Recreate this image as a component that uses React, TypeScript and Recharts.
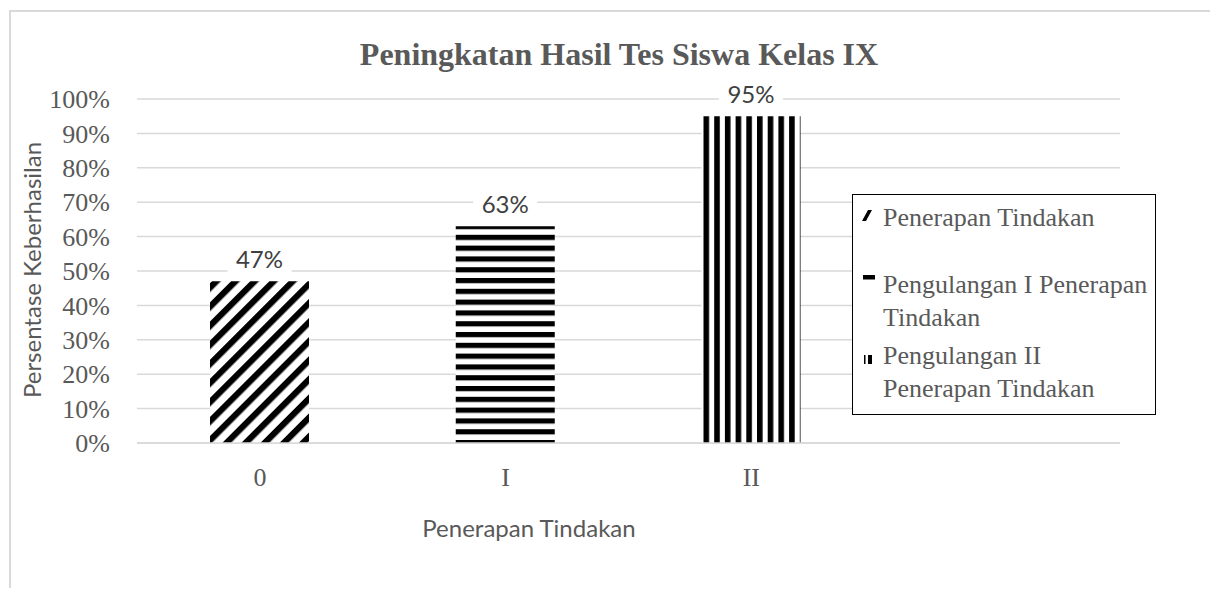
import React from 'react';
import { BarChart, Bar, XAxis, YAxis, CartesianGrid, Legend, LabelList, Cell } from 'recharts';

const categories = ['0', 'I', 'II', ''];
const values: (number | null)[] = [47, 63, 95, null];
const seriesNames = ['Penerapan Tindakan', 'Pengulangan I Penerapan Tindakan', 'Pengulangan II Penerapan Tindakan'];
const yTicks = [0, 10, 20, 30, 40, 50, 60, 70, 80, 90, 100];
const chartTitle = 'Peningkatan Hasil Tes Siswa Kelas IX';
const xTitle = 'Penerapan Tindakan';
const yTitle = 'Persentase Keberhasilan';

const patternIds = ['patDiag', 'patHoriz', 'patVert'];
const data = categories.map((c, i) => ({ category: c, value: values[i] }));

const SERIF = '"Liberation Serif", "Times New Roman", serif';
const SANS = 'Lato, "Open Sans", sans-serif';
const GRAY = '#595959';

const renderLabel = (props: any) => {
  const { x, y, width, value } = props;
  if (value === null || value === undefined) return null;
  const cx = Number(x) + Number(width) / 2;
  const top = Number(y);
  return (
    <g>
      <rect x={cx - 32} y={top - 40} width={64} height={34} fill="#fff" />
      <text x={cx} y={top - 23} textAnchor="middle" dominantBaseline="central" fontFamily={SANS} fontSize={24} fill="#404040">
        {value}%
      </text>
    </g>
  );
};

const LegendIcon = ({ i }: { i: number }) => {
  if (i === 0) {
    return (
      <svg width={16} height={18} style={{ position: 'absolute', left: 8, top: 13 }}>
        <polygon points="1,13 5,13 11,2 7,2" fill="#000" />
      </svg>
    );
  }
  if (i === 1) {
    return (
      <svg width={14} height={8} style={{ position: 'absolute', left: 10, top: 79 }}>
        <rect x={0} y={1} width={12} height={4.5} fill="#000" />
      </svg>
    );
  }
  return (
    <svg width={14} height={12} style={{ position: 'absolute', left: 10, top: 160 }}>
      <rect x={1} y={0} width={1.5} height={9} fill="#000" />
      <rect x={5} y={0} width={4} height={9} fill="#000" />
    </svg>
  );
};

const entryTops = [6, 73, 144];

const renderLegend = () => (
  <div
    style={{
      position: 'relative',
      width: 304,
      height: 221,
      border: '1px solid #000',
      boxSizing: 'border-box',
      background: '#fff',
      fontFamily: SERIF,
      fontSize: 26,
      lineHeight: '33px',
      color: GRAY,
    }}
  >
    {seriesNames.map((name, i) => (
      <div key={name}>
        <LegendIcon i={i} />
        <div style={{ position: 'absolute', left: 30, top: entryTops[i], width: 272 }}>{name}</div>
      </div>
    ))}
  </div>
);

export default function App() {
  return (
    <div style={{ position: 'relative', width: 1210, height: 580 }}>
      <div
        style={{
          position: 'absolute',
          left: 1,
          top: 2,
          width: 1209,
          height: 578,
          borderLeft: '2px solid #d9d9d9',
          borderTop: '2px solid #d9d9d9',
          boxSizing: 'border-box',
        }}
      />
      <div
        style={{
          position: 'absolute',
          left: 0,
          width: 1222,
          top: 28,
          textAlign: 'center',
          fontFamily: SERIF,
          fontWeight: 'bold',
          fontSize: 32,
          color: GRAY,
          lineHeight: '36px',
          zIndex: 2,
        }}
      >
        {chartTitle}
      </div>
      <div style={{ position: 'absolute', left: 0, top: 0 }}>
        <BarChart width={1210} height={580} data={data} margin={{ top: 91, right: 98, bottom: 115, left: 69 }}>
          <defs>
            <pattern id={patternIds[0]} patternUnits="userSpaceOnUse" width={13.5} height={13.5} patternTransform="rotate(45)">
              <rect x={0} y={0} width={13.5} height={13.5} fill="#fff" />
              <rect x={0} y={0} width={6.2} height={13.5} fill="#000" />
            </pattern>
            <pattern id={patternIds[1]} patternUnits="userSpaceOnUse" width={10.8} height={10.8}>
              <rect x={0} y={0} width={10.8} height={10.8} fill="#fff" />
              <rect x={0} y={0} width={10.8} height={5.2} fill="#000" />
            </pattern>
            <pattern id={patternIds[2]} patternUnits="userSpaceOnUse" width={10.7} height={10.7}>
              <rect x={0} y={0} width={10.7} height={10.7} fill="#fff" />
              <rect x={0} y={0} width={5.6} height={10.7} fill="#000" />
            </pattern>
          </defs>
          <CartesianGrid vertical={false} stroke="#d9d9d9" strokeWidth={1.5} />
          <XAxis
            dataKey="category"
            height={30}
            tickLine={false}
            tickSize={0}
            tickMargin={25}
            axisLine={{ stroke: '#d9d9d9', strokeWidth: 1.5 }}
            tick={{ fontFamily: SERIF, fontSize: 26, fill: GRAY }}
            label={{
              content: () => (
                <text x={521} y={519} textAnchor="middle" dominantBaseline="central" fontFamily={SANS} fontSize={24} fill={GRAY}>
                  {xTitle}
                </text>
              ),
            }}
          />
          <YAxis
            width={60}
            domain={[0, 100]}
            ticks={yTicks}
            interval={0}
            tickFormatter={(v: number) => `${v}%`}
            tickLine={false}
            tickSize={0}
            tickMargin={27}
            axisLine={false}
            tick={{ fontFamily: SERIF, fontSize: 26, fill: GRAY }}
            label={{
              content: () => (
                <text
                  x={23}
                  y={262}
                  textAnchor="middle"
                  dominantBaseline="central"
                  transform="rotate(-90 23 262)"
                  fontFamily={SANS}
                  fontSize={24}
                  fill={GRAY}
                >
                  {yTitle}
                </text>
              ),
            }}
          />
          <Legend
            layout="horizontal"
            verticalAlign="middle"
            align="center"
            content={renderLegend}
            wrapperStyle={{ left: 844, top: 186, width: 304, height: 221 }}
          />
          <Bar dataKey="value" barSize={99} isAnimationActive={false}>
            {data.map((d, i) => (
              <Cell key={`c${i}`} fill={`url(#${patternIds[i % patternIds.length]})`} />
            ))}
            <LabelList dataKey="value" content={renderLabel} />
          </Bar>
        </BarChart>
      </div>
    </div>
  );
}
